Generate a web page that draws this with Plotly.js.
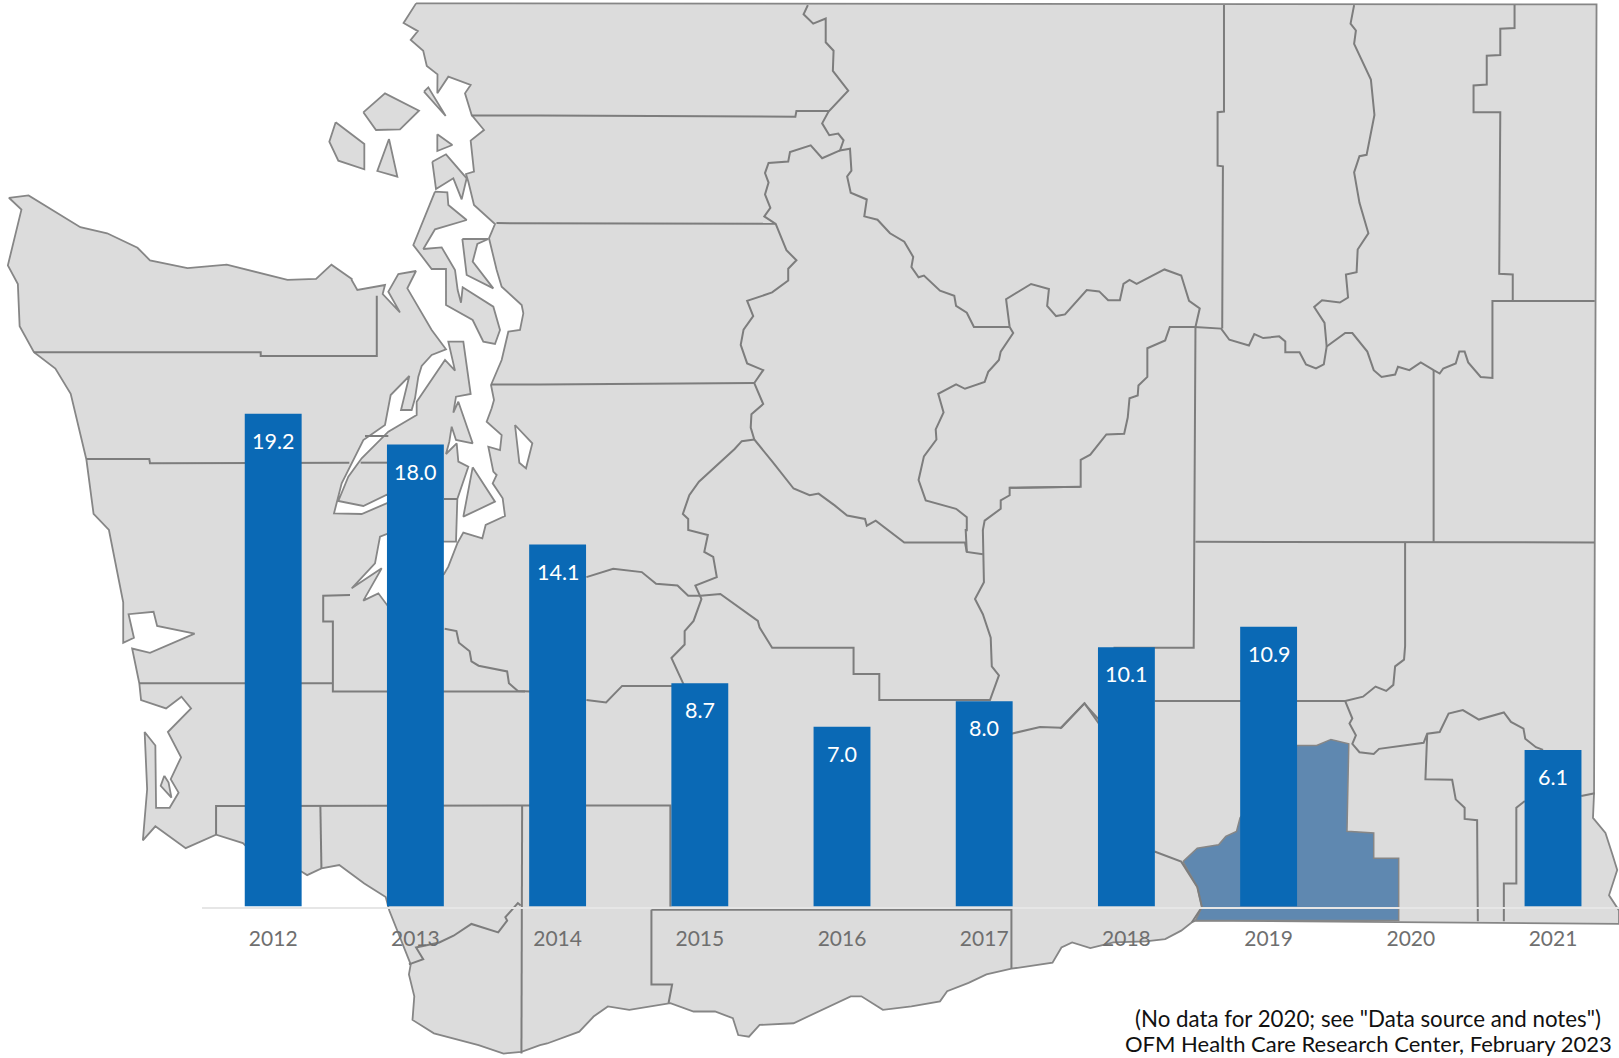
<!DOCTYPE html>
<html>
<head>
<meta charset="utf-8">
<script src="https://cdn.plot.ly/plotly-3.0.1.min.js"></script>
<style>html,body{margin:0;padding:0;background:#fff}#chart{width:1619px;height:1058px}</style>
</head>
<body>
<div id="chart"></div>
<script>
// ---- chart data ----
const years = ["2012","2013","2014","2015","2016","2017","2018","2019","2020","2021"];
const rates = [19.2,18.0,14.1,8.7,7.0,8.0,10.1,10.9,null,6.1];
const footnotes = ['(No data for 2020; see "Data source and notes")','OFM Health Care Research Center, February 2023'];

// ---- backdrop map geometry (traced in reading frames of the map) ----
const frames = {c1:[0,0,2.8,2.958],c2:[0,530,2.8,2.97],c3:[540,0,2.8,2.958],c4:[540,530,2.8,2.97],
  c5:[1060,0,2.805,2.958],c6:[1060,530,2.805,2.97],z7:[320,70,3,3],z8:[320,280,3,3],z9:[320,430,3,3]};

const stateOutline = [
 ['c1',[1165,10,1130,68,1170,92,1150,118,1185,150,1195,195,1225,220]],
 ['z7',[352,70,385,20,452,45,435,70,455,135,492,180,452,212,462,305,438,312,445,335,462,405,525,462,507,505,530,600]],
 ['z8',[545,20,605,75,610,100,600,150,565,155,545,240,513,315,522,360,515,385,500,425,545,465,540,510,505,500]],
 ['z9',[520,125,530,135,518,160,548,205,555,258,497,285,487,325,430,308,412,340,385,410,372,432,205,530,175,490,130,512,185,415,95,475,165,400,180,320,205,310,372,335,408,335,412,207,445,110,415,95,410,40]],
 ['z8',[378,522,388,485,395,440,408,480,458,490,415,365,400,398,408,350,452,342,430,185,385,185,405,272,375,240,290,365,290,405,205,455]],
 ['z9',[125,85,85,140,55,213,130,228,205,192,205,218,125,252,42,250,65,160,130,30]],
 ['z8',[195,435,212,345,268,288,243,390,275,390,285,355,295,290,305,258,335,225,378,208,335,150,262,25]],
 ['z7',[288,603,235,612]],
 ['z8',[205,35,240,97,188,42,195,15,112,30,95,0]],
 ['c1',[985,825,928,783,885,825,805,828,635,783,525,793,420,770,385,733,300,690,225,672,80,578,25,585,60,620,22,785,50,840,55,965,95,1042,155,1090,198,1165,242,1360,262,1520]],
 ['c2',[305,0,345,215,345,335,375,320,360,250,430,243,440,285,545,308,420,365,370,352,390,455,395,505,465,530,508,495,535,530,470,600,507,675,478,740,500,780,475,825,437,825,435,640,405,600,412,770,400,922,435,880,520,945,605,905,680,930,700,950,845,1015,860,1025,900,1005,950,995,1020,1050,1080,1090,1090,1130,1135,1250,1150,1290,1145,1320,1160,1385,1155,1455,1215,1495,1340,1530,1410,1555,1460,1550,1512,1530]],
 ['c4',[20,1525,110,1490,150,1445,190,1415,250,1425,365,1405,430,1430,490,1430,540,1450,555,1500,585,1505,615,1470,710,1465,830,1405,870,1385,900,1385,930,1405,960,1425,1040,1415,1120,1400,1140,1370,1200,1345,1250,1320,1320,1303,1435,1285,1460,1240,1490,1225,1530,1240]],
 ['c6',[85,1242,150,1225,240,1222,295,1215,340,1190,370,1165,380,1160,1568,1170,1568,1130,1540,1085,1563,1010,1550,965,1530,900,1495,855,1498,782,1500,37]],
 ['c5',[1505,13]],
 ['c1',[1165,10]]
];

const highlightCounty = [['c6',[345,985,385,945,445,935,465,910,495,895,505,855,665,640,720,640,760,622,810,635,805,895,880,900,880,975,950,975,950,1160,380,1160,398,1120,385,1060,345,985]]];

const islands = [
 ['z7',[130,127,195,70,297,122,240,178,168,180,130,127]],
 ['z7',[47,157,133,222,133,298,55,272,28,215,47,157]],
 ['z7',[207,207,232,320,172,303,207,207]],
 ['z7',[312,65,325,52,377,138,312,65]],
 ['z7',[352,193,397,225,352,243,352,193]],
 ['z7',[337,275,378,253,440,325,425,388,400,325,348,357,337,275]],
 ['z7',[345,365,382,367,385,405,440,450,345,478,310,537,365,532,405,600,413,660,423,698,428,652,520,710,540,780,525,822,490,815,458,750,378,705,378,597,335,597,280,525,345,365]],
 ['z7',[427,507,505,507,472,522,458,575,520,655,440,615,427,507]],
 ['z9',[458,112,525,215,430,260,458,112]],
 ['c2',[460,730,450,760,480,795,472,750,460,730]]
];

const lakes = [['z8',[585,435,637,490,618,565,598,548,585,435]]];

const countyLines = [
 ['c1',[1320,342]],['c3',[0,342,715,345,718,328,810,328]],null,
 ['c1',[1390,660]],['c3',[0,660,660,662]],null,
 ['c1',[1375,1137]],['c3',[0,1137,600,1133]],null,
 ['c1',[95,1042,730,1042,730,1053,1055,1053,1055,875]],null,
 ['c1',[242,1358,418,1358,420,1370]],['z9',[88,98]],null,
 ['z9',[122,98,205,98]],null,
 ['z9',[205,18,135,18]],null,
 ['z9',[372,207,412,207]],null,
 ['c2',[390,455,930,455]],null,
 ['c2',[980,193,905,195,905,272,932,272,932,480,1470,480]],null,
 ['c2',[1245,293,1278,300,1285,335,1315,360,1320,390,1340,403,1420,420,1425,455,1450,478,1485,480]],null,
 ['c4',[130,140,205,115,285,125,325,160,385,165,415,195,450,195,505,190,610,270,615,290,650,350,878,350,878,428,950,428,950,505,1260,505,1285,432,1265,405,1262,320,1240,250,1218,205,1243,155,1240,0]],null,
 ['c4',[130,505,185,512,230,463,404,463,368,380,405,340,405,300,430,270,452,205,435,165,495,140,485,80,460,65,470,15,415,0]],['c3',[415,1568,415,1535,400,1520,418,1465,445,1425,500,1372,545,1328,565,1305,600,1300]],null,
 ['c2',[605,905,605,820,1485,818]],['c4',[130,818,365,818,365,1118]],null,
 ['c2',[897,820,900,1005]],null,
 ['c2',[1462,820,1460,1555]],null,
 ['c4',[312,1128,312,1350,370,1350,360,1405]],null,
 ['c4',[312,1128,1320,1128,1320,1303]],null,
 ['c2',[1145,1290,1185,1275,1165,1240,1230,1225,1270,1205,1320,1170,1395,1195,1420,1160,1415,1150,1450,1108,1458,1115]],null,
 ['c3',[750,15,738,42,765,70,800,55,800,125,822,150,820,210,863,268,808,330,790,365,810,400,835,395,850,415,840,445,868,440,872,505,860,522,870,570,915,590,908,640,945,650,980,690,1020,715,1045,760,1040,790,1060,820,1075,815,1120,860,1160,875,1165,905,1195,925,1215,967,1315,967]],null,
 ['c3',[840,445,790,468,758,430,700,450,695,478,640,482,630,512,640,540,630,575,645,615,628,640,660,662,690,740,718,770,695,795,695,830,650,865,580,890,597,935,570,975,562,1020,580,1075,625,1095,600,1133,625,1195,592,1225,590,1265,600,1300,650,1365,710,1445,755,1465,780,1460,825,1495,860,1525,910,1535,915,1555,940,1540,975,1568]],['c4',[1020,37,1190,37,1195,65,1240,72]],null,
 ['c3',[1315,967,1325,985,1290,1040,1285,1065,1255,1100,1245,1130,1190,1150,1165,1137,1115,1165,1130,1220,1108,1270,1110,1300,1075,1350,1060,1420,1080,1480,1165,1505,1195,1530,1195,1568]],['c4',[1192,0,1195,65]],null,
 ['c3',[1240,1568,1245,1540,1290,1505,1290,1480,1315,1465,1315,1443]],['c5',[58,1440,58,1360,85,1345,130,1285,180,1283,190,1235,195,1178,218,1170,220,1140,245,1115,245,1030,295,1007,308,967,378,967,452,972,475,1005,530,1022,545,988,570,1000,615,995,632,1010,632,1042,672,1042,690,1078,718,1090,740,1078,748,1025,800,985,820,985,862,1040,880,1095,902,1115,940,1108,948,1085,980,1095,1012,1072,1048,1095,1065,1105,1075,1090,1110,1075,1120,1040,1135,1040,1145,1072,1180,1115,1213,1118,1213,890,1500,890]],null,
 ['c3',[1315,1443,1512,1440]],null,
 ['c3',[1315,967,1305,885,1375,840,1425,855,1420,905,1445,935,1470,930,1530,860]],['c5',[75,858,110,862,135,888,168,888,178,840,195,828,215,840,293,797,340,815,362,890,392,912,380,967,378,1568]],['c6',[375,350,150,350]],null,
 ['c5',[460,15,460,330,442,332,442,490,457,492,455,972]],null,
 ['c5',[825,15,815,70,830,90,825,130,872,235,882,340,860,458,840,462,825,510,840,600,865,690,835,738,832,805,802,812,808,880,785,895,735,888,713,908,742,955,748,1025]],null,
 ['c5',[1275,15,1275,83,1235,85,1235,163,1197,165,1197,250,1160,253,1160,332,1235,332,1232,810,1270,812,1270,890]],null,
 ['c5',[1048,1095,1048,1568]],['c6',[1048,35]],null,
 ['c6',[380,35,1500,37]],null,
 ['c6',[968,38,968,345,965,385,940,405,935,460,915,478,885,465,850,495,800,508,265,508]],null,
 ['c6',[800,508,820,560,812,575,830,610,820,635,840,660,880,665,895,650,1020,632,1030,605,1065,600,1090,545,1130,535,1175,563,1245,542,1265,570,1300,590,1305,620,1335,645,1355,653]],null,
 ['c6',[1030,605,1025,740,1100,742,1110,800,1135,825,1135,858,1170,862,1172,1162]],null,
 ['c6',[1462,790,1500,782]],null,
 ['c6',[1304,805,1280,825,1280,1050,1245,1050,1245,1162]],null,
 ['c4',[1320,605,1400,585,1460,587,1525,515,1568,580]],null,
 ['c6',[0,590,68,515,108,562]],null,
 ['c6',[265,955,340,985,385,1060,398,1120,370,1165]],null
];

// ---- helpers ----
function project(parts){
  const xs=[],ys=[];
  parts.forEach(p=>{
    if(p===null){xs.push(null);ys.push(null);return;}
    const [ox,oy,sx,sy]=frames[p[0]],a=p[1];
    for(let i=0;i<a.length;i+=2){xs.push(ox+a[i]/sx);ys.push(oy+a[i+1]/sy);}
  });
  return {x:xs,y:ys};
}
function withBreaks(list){const out=[];list.forEach(s=>{out.push(s,null);});return out;}
function area(parts,fill,line,w){
  const c=project(parts);
  return {type:'scatter',mode:'lines',x:c.x,y:c.y,fill:'toself',fillcolor:fill,
    line:{color:line,width:w},hoverinfo:'skip',showlegend:false,xaxis:'x',yaxis:'y'};
}

const land='#dcdcdc', edge='#868686';
const cl=project(countyLines);
const traces=[
  area(stateOutline,land,edge,1.8),
  area(highlightCounty,'#5f88b0',edge,1.5),
  area(withBreaks(islands),land,edge,1.8),
  area(withBreaks(lakes),'#ffffff',edge,1.8),
  {type:'scatter',mode:'lines',x:cl.x,y:cl.y,line:{color:'#7d7d7d',width:2},hoverinfo:'skip',showlegend:false,xaxis:'x',yaxis:'y',connectgaps:false},
  {type:'bar',x:years,y:rates,width:0.4,marker:{color:'#0a69b5',line:{width:0}},xaxis:'x2',yaxis:'y2',showlegend:false}
];

const labelFont={family:'Lato, sans-serif',size:21.5,color:'#ffffff'};
const annotations=years.map((yr,i)=>rates[i]===null?null:({
  xref:'x2',yref:'y2',x:i,y:rates[i],yshift:-27,text:rates[i].toFixed(1),showarrow:false,
  xanchor:'center',yanchor:'middle',font:labelFont})).filter(Boolean);
annotations.push({xref:'paper',yref:'paper',x:1368/1619,y:1-1018/1058,text:footnotes[0],showarrow:false,
  xanchor:'center',yanchor:'middle',font:{family:'Lato, sans-serif',size:22.3,color:'#111111'}});
annotations.push({xref:'paper',yref:'paper',x:1368/1619,y:0,text:footnotes[1],showarrow:false,
  xanchor:'center',yanchor:'bottom',borderpad:0,font:{family:'Lato, sans-serif',size:22,color:'#111111'}});

const layout={
  width:1619,height:1058,margin:{l:0,r:0,t:0,b:0},paper_bgcolor:'#ffffff',plot_bgcolor:'rgba(0,0,0,0)',
  showlegend:false,hovermode:false,
  xaxis:{domain:[0,1],range:[0,1619],visible:false,fixedrange:true,anchor:'y'},
  yaxis:{domain:[0,1],range:[1058,0],visible:false,fixedrange:true,anchor:'x'},
  xaxis2:{domain:[202.1/1619,1],type:'category',range:[-0.5,9.464],anchor:'y2',showgrid:false,zeroline:false,
    showline:true,linecolor:'#e6e6e6',linewidth:2,ticks:'outside',ticklen:12,tickcolor:'rgba(0,0,0,0)',
    tickfont:{family:'Lato, sans-serif',size:21,color:'#6f6f6f'},fixedrange:true},
  yaxis2:{domain:[(1058-906.5)/1058,1],range:[0,35.32],anchor:'x2',visible:false,fixedrange:true},
  annotations
};
Plotly.newPlot('chart',traces,layout,{staticPlot:true,displayModeBar:false});
</script>
</body>
</html>
